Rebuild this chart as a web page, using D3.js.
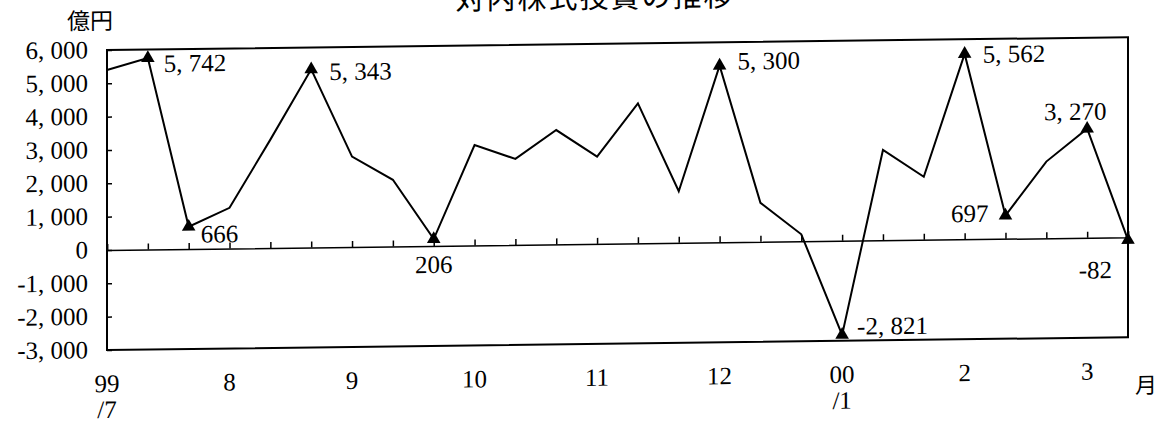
<!DOCTYPE html>
<html>
<head>
<meta charset="utf-8">
<script src="https://cdn.jsdelivr.net/npm/d3@7"></script>
<style>
  body { margin: 0; background: #fff; }
  svg { display: block; }
</style>
</head>
<body>
<svg id="chart" width="1160" height="425"></svg>
<script>
// Net inward stock investment by ten-day period (上/中/下旬), 100 million yen
const periods = ["99/7上","7中","7下","8上","8中","8下","9上","9中","9下","10上","10中","10下",
                 "11上","11中","11下","12上","12中","12下","00/1上","1中","1下","2上","2中","2下","3上","3中"];
const flows = [5400, 5742, 666, 1220, 3250, 5343, 2710, 2000, 206, 3010, 2580, 3430,
               2620, 4200, 1550, 5300, 1170, 210, -2821, 2710, 1890, 5562, 697, 2300, 3270, -82];

// Periods that carry a triangle marker and a value label
const labeled = ["7中","7下","8下","9下","12上","00/1上","2上","2中","3上","3中"];

// Month labels under the axis (two lines where the year changes)
const monthPeriods = ["99/7上","8上","9上","10上","11上","12上","00/1上","2上","3上"];
const monthLabels  = [["99","/7"],["8"],["9"],["10"],["11"],["12"],["00","/1"],["2"],["3"]];

const yTicks = [-3000,-2000,-1000,0,1000,2000,3000,4000,5000,6000];

// Label placement relative to each marked point: [dx, dy, anchor]
const labelPlacement = [[16,14,"start"],[12,16,"start"],[18,11,"start"],[0,34,"middle"],
                        [18,4,"start"],[15,0,"start"],[18,9,"start"],[-17,6,"end"],
                        [-12,-9,"middle"],[-16,38,"end"]];

const fmt = v => d3.format(",")(v).replace(/,/g, ", ").replace("−", "-");

const svg = d3.select("#chart");
const serif = "'Liberation Serif', 'DejaVu Serif', serif";
const cjk = "'Noto Sans CJK JP', sans-serif";

const plotLeft = 107, plotRight = 1128, plotTop = 50, plotBottom = 350;
const x = d3.scalePoint().domain(periods).range([plotLeft, plotRight]);
const y = d3.scaleLinear().domain([-3000, 6000]).range([plotBottom, plotTop]);

// The sheet sits at a slight slant
const g = svg.append("g")
  .attr("transform", `translate(${plotLeft},0) skewY(-0.716) translate(${-plotLeft},0)`);

// Title
g.append("text")
  .attr("x", 595).attr("y", 14)
  .attr("text-anchor", "middle")
  .attr("font-family", cjk).attr("font-size", 29)
  .attr("letter-spacing", 2)
  .text("対内株式投資の推移");

// Unit
g.append("text")
  .attr("x", 90).attr("y", 29)
  .attr("text-anchor", "middle")
  .attr("font-family", cjk).attr("font-size", 23)
  .text("億円");

// Frame
g.append("rect")
  .attr("x", plotLeft).attr("y", plotTop)
  .attr("width", plotRight - plotLeft).attr("height", plotBottom - plotTop)
  .attr("fill", "none").attr("stroke", "#000").attr("stroke-width", 2);

// Y axis: labels on the left, short ticks pointing inward
const yAxis = d3.axisRight(y).tickValues(yTicks).tickSize(5).tickFormat("");
g.append("g").attr("transform", `translate(${plotLeft},0)`).call(yAxis)
  .call(s => s.select(".domain").remove())
  .call(s => s.selectAll("line").attr("stroke", "#000").attr("stroke-width", 1.5));

g.append("g").selectAll("text").data(yTicks).join("text")
  .attr("x", 88).attr("y", d => y(d) + 8)
  .attr("text-anchor", "end")
  .attr("font-family", serif).attr("font-size", 25)
  .text(d => fmt(d));

// Zero line with a tick at every period
const xAxis = d3.axisTop(x).tickSize(6).tickFormat("");
g.append("g").attr("transform", `translate(0,${y(0)})`).call(xAxis)
  .call(s => s.select(".domain").attr("stroke", "#000").attr("stroke-width", 1.5))
  .call(s => s.selectAll("line").attr("stroke", "#000").attr("stroke-width", 1.5));

// Month labels
const ml = g.append("g").selectAll("text").data(monthPeriods).join("text")
  .attr("x", d => x(d))
  .attr("y", 392)
  .attr("text-anchor", "middle")
  .attr("font-family", serif).attr("font-size", 25);
ml.selectAll("tspan").data((d, i) => monthLabels[i]).join("tspan")
  .attr("x", function() { return d3.select(this.parentNode).attr("x"); })
  .attr("dy", (d, i) => i === 0 ? 0 : 26)
  .text(d => d);

g.append("text")
  .attr("x", 1146).attr("y", 406)
  .attr("text-anchor", "middle")
  .attr("font-family", cjk).attr("font-size", 22)
  .text("月");

// Series line
const line = d3.line().x((d, i) => x(periods[i])).y(d => y(d));
g.append("path")
  .datum(flows)
  .attr("d", line)
  .attr("fill", "none").attr("stroke", "#000").attr("stroke-width", 2)
  .attr("stroke-linejoin", "miter");

// Triangle markers and value labels
const marks = labeled.map((p, k) => ({ p, v: flows[periods.indexOf(p)], place: labelPlacement[k] }));
g.append("g").selectAll("path").data(marks).join("path")
  .attr("d", d3.symbol(d3.symbolTriangle, 80))
  .attr("transform", d => `translate(${x(d.p)},${y(d.v)})`)
  .attr("fill", "#000");

g.append("g").selectAll("text").data(marks).join("text")
  .attr("x", d => x(d.p) + d.place[0])
  .attr("y", d => y(d.v) + d.place[1])
  .attr("text-anchor", d => d.place[2])
  .attr("font-family", serif).attr("font-size", 25)
  .text(d => fmt(d.v));
</script>
</body>
</html>
